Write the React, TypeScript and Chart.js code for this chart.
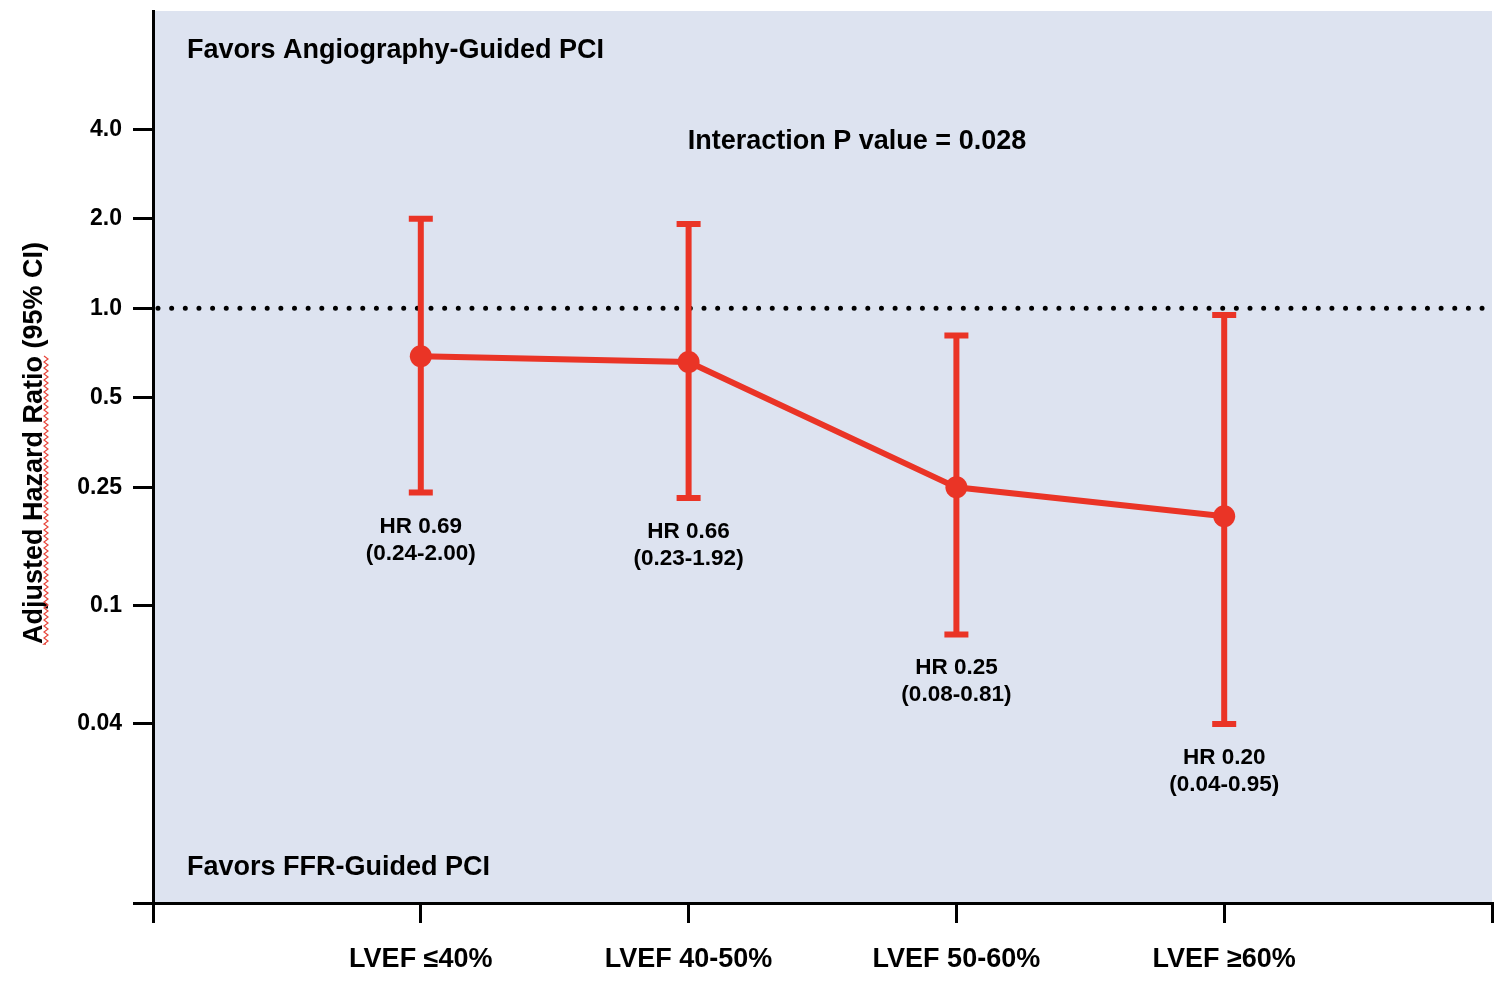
import React, { useEffect, useRef } from 'react';
import { Chart, registerables } from 'chart.js';

Chart.register(...registerables);

const categories = ['LVEF ≤40%', 'LVEF 40-50%', 'LVEF 50-60%', 'LVEF ≥60%'];
const categoryX = [1, 2, 3, 4];
const hazardRatio = [0.69, 0.66, 0.25, 0.2];
const ciLower = [0.24, 0.23, 0.08, 0.04];
const ciUpper = [2.0, 1.92, 0.81, 0.95];
const hrLabels = ['HR 0.69', 'HR 0.66', 'HR 0.25', 'HR 0.20'];
const ciLabels = ['(0.24-2.00)', '(0.23-1.92)', '(0.08-0.81)', '(0.04-0.95)'];
const yTickValues = [0.01, 0.04, 0.1, 0.25, 0.5, 1, 2, 4];
const yTickLabels = ['', '0.04', '0.1', '0.25', '0.5', '1.0', '2.0', '4.0'];
const xTickValues = [0, 1, 2, 3, 4, 5];
const referenceHR = 1;
const yRange = [0.01, 10];
const xRange = [0, 5];

const FAMILY = '"Liberation Sans", Arial, Helvetica, sans-serif';
const RED = '#ea3426';
const BG = '#dde3f0';

const bgPlugin = {
  id: 'plotBg',
  beforeDraw(chart: any) {
    const { ctx, chartArea: ca } = chart;
    ctx.save();
    ctx.fillStyle = BG;
    ctx.fillRect(ca.left, ca.top, ca.right - ca.left, ca.bottom - ca.top + 2);
    ctx.restore();
  },
};

const overlayPlugin = {
  id: 'overlay',
  beforeDatasetsDraw(chart: any) {
    const { ctx, chartArea: ca, scales } = chart;
    const x = scales.x;
    const y = scales.y;
    ctx.save();
    // reference line at HR = 1
    const yRef = y.getPixelForValue(referenceHR);
    ctx.strokeStyle = '#000';
    ctx.lineWidth = 5;
    ctx.lineCap = 'round';
    ctx.setLineDash([0, 13.65]);
    ctx.beginPath();
    ctx.moveTo(ca.left + 5, yRef);
    ctx.lineTo(ca.right, yRef);
    ctx.stroke();
    ctx.setLineDash([]);
    // error bars
    ctx.strokeStyle = RED;
    ctx.lineCap = 'butt';
    ctx.lineWidth = 6;
    for (let i = 0; i < categoryX.length; i++) {
      const px = x.getPixelForValue(categoryX[i]);
      const lo = y.getPixelForValue(ciLower[i]);
      const hi = y.getPixelForValue(ciUpper[i]);
      ctx.beginPath();
      ctx.moveTo(px, lo);
      ctx.lineTo(px, hi);
      ctx.moveTo(px - 12, lo);
      ctx.lineTo(px + 12, lo);
      ctx.moveTo(px - 12, hi);
      ctx.lineTo(px + 12, hi);
      ctx.stroke();
    }
    ctx.restore();
  },
  afterDraw(chart: any) {
    const { ctx, chartArea: ca, scales } = chart;
    const x = scales.x;
    const y = scales.y;
    ctx.save();
    ctx.fillStyle = '#000';
    ctx.font = `bold 27px ${FAMILY}`;
    ctx.textBaseline = 'alphabetic';
    ctx.textAlign = 'left';
    ctx.fillText('Favors Angiography-Guided PCI', ca.left + 34, ca.top + 47);
    ctx.fillText('Favors FFR-Guided PCI', ca.left + 34, ca.bottom - 28);
    ctx.textAlign = 'center';
    ctx.fillText('Interaction P value = 0.028', ca.left + 704, ca.top + 138);

    // HR annotations
    ctx.font = `bold 22.5px ${FAMILY}`;
    for (let i = 0; i < categoryX.length; i++) {
      const px = x.getPixelForValue(categoryX[i]);
      const lo = y.getPixelForValue(ciLower[i]);
      ctx.fillText(hrLabels[i], px, lo + 40);
      ctx.fillText(ciLabels[i], px, lo + 67);
    }

    // y-axis title
    const title = 'Adjusted Hazard Ratio (95% CI)';
    const underlined = 'Adjusted Hazard Ratio';
    ctx.font = `bold 27px ${FAMILY}`;
    const cy = (ca.top + ca.bottom) / 2 - 14;
    const tw = ctx.measureText(title).width;
    ctx.translate(42, cy + tw / 2);
    ctx.rotate(-Math.PI / 2);
    ctx.textAlign = 'left';
    ctx.fillText(title, 0, 0);
    // spell-check style wavy underline
    const uw = ctx.measureText(underlined).width;
    ctx.strokeStyle = '#e8453a';
    ctx.lineWidth = 1.2;
    ctx.beginPath();
    let up = true;
    ctx.moveTo(0, 4);
    for (let t = 0; t <= uw; t += 3) {
      ctx.lineTo(t, up ? 2 : 6);
      up = !up;
    }
    ctx.stroke();
    ctx.restore();
  },
};

export default function App() {
  const canvasRef = useRef<HTMLCanvasElement | null>(null);

  useEffect(() => {
    if (!canvasRef.current) return;
    const chart = new Chart(canvasRef.current, {
      type: 'line',
      data: {
        datasets: [
          {
            data: categoryX.map((cx, i) => ({ x: cx, y: hazardRatio[i] })),
            borderColor: RED,
            backgroundColor: RED,
            borderWidth: 6,
            pointRadius: 11,
            pointBackgroundColor: RED,
            pointBorderWidth: 0,
            fill: false,
            tension: 0,
          },
        ],
      },
      options: {
        animation: false,
        responsive: true,
        maintainAspectRatio: false,
        layout: { padding: { left: 0, top: 8, right: 18, bottom: 0 } },
        plugins: {
          legend: { display: false },
          tooltip: { enabled: false },
          title: { display: false },
        },
        scales: {
          x: {
            type: 'linear',
            min: xRange[0],
            max: xRange[1],
            afterBuildTicks: (scale: any) => {
              scale.ticks = xTickValues.map((v) => ({ value: v }));
            },
            afterFit: (scale: any) => {
              scale.height = 89;
              scale.paddingLeft = 0;
              scale.paddingRight = 0;
              scale.paddingTop = 0;
              scale.paddingBottom = 0;
            },
            ticks: {
              autoSkip: false,
              maxRotation: 0,
              color: '#000',
              padding: 20,
              font: { family: FAMILY, size: 27, weight: 'bold' },
              callback: (v: any) => categories[Number(v) - 1] ?? '',
            },
            grid: {
              drawOnChartArea: false,
              drawTicks: true,
              tickLength: 20,
              color: '#000',
              lineWidth: 3,
            },
            border: { display: true, color: '#000', width: 3 },
          },
          y: {
            type: 'logarithmic',
            min: yRange[0],
            max: yRange[1],
            afterBuildTicks: (scale: any) => {
              scale.ticks = yTickValues.map((v) => ({ value: v }));
            },
            afterFit: (scale: any) => {
              scale.width = 153;
              scale.paddingLeft = 0;
              scale.paddingRight = 0;
              scale.paddingTop = 0;
              scale.paddingBottom = 0;
            },
            ticks: {
              autoSkip: false,
              color: '#000',
              padding: 11,
              font: { family: FAMILY, size: 23, weight: 'bold' },
              callback: (v: any) => {
                const idx = yTickValues.indexOf(Number(v));
                return idx >= 0 ? yTickLabels[idx] : '';
              },
            },
            grid: {
              drawOnChartArea: false,
              drawTicks: true,
              tickLength: 20,
              color: '#000',
              lineWidth: 3,
            },
            border: { display: true, color: '#000', width: 3 },
          },
        },
      } as any,
      plugins: [bgPlugin, overlayPlugin],
    });
    return () => chart.destroy();
  }, []);

  return (
    <div style={{ position: 'absolute', left: 0, top: 0, width: 1510, height: 992, background: '#fff' }}>
      <canvas ref={canvasRef} />
    </div>
  );
}
